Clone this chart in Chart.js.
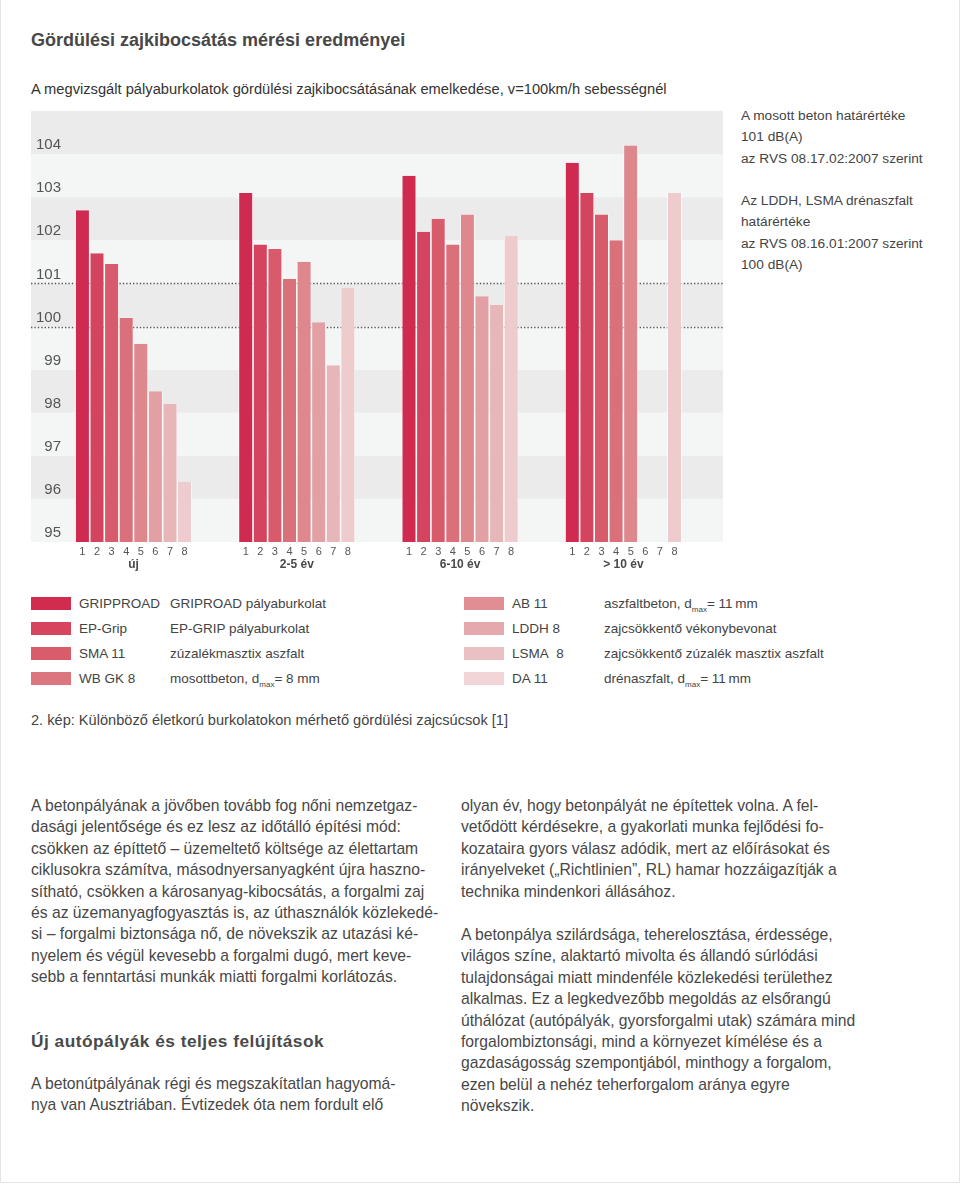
<!DOCTYPE html>
<html lang="hu">
<head>
<meta charset="utf-8">
<title>Gördülési zajkibocsátás mérési eredményei</title>
<script src="https://cdn.jsdelivr.net/npm/chart.js@4.4.1/dist/chart.umd.min.js"></script>
<style>
  body { margin: 0; background: #fff; font-family: "Liberation Sans", Arial, sans-serif; color: #444; }
  #page { position: relative; width: 958px; height: 1182px; border: 1px solid #e3e3e3; border-top: none; overflow: hidden; }
  .abs { position: absolute; white-space: nowrap; }
  #title { left: 30px; top: 30px; font-size: 18px; line-height: 20px; font-weight: bold; color: #474747; }
  #subtitle { left: 30px; top: 80px; font-size: 14.7px; line-height: 18px; color: #333; }
  #chartBox { position: absolute; left: 0; top: 95px; width: 740px; height: 487px; }
  #note { left: 740px; top: 105px; font-size: 13.7px; line-height: 21.3px; color: #444; }
  .leg { position: absolute; top: 591px; }
  .leg-row { position: relative; height: 25px; line-height: 25px; font-size: 13.5px; color: #444; white-space: nowrap; }
  .leg-row .sw { position: absolute; left: 0; top: 6px; width: 40px; height: 13px; }
  .leg-row .code { position: absolute; left: 48px; }
  .leg-row sub { font-size: 8px; vertical-align: -4px; line-height: 0; }
  #caption { left: 30px; top: 711px; font-size: 14.6px; line-height: 18px; color: #444; }
  .col { position: absolute; font-size: 15.7px; line-height: 21.4px; color: #474747; white-space: nowrap; }
  #heading { left: 30px; top: 1030px; font-size: 17.3px; line-height: 22px; font-weight: bold; color: #4a4a4a; letter-spacing: 0.5px; }
</style>
</head>
<body>
<div id="page">
  <div id="title" class="abs">Gördülési zajkibocsátás mérési eredményei</div>
  <div id="subtitle" class="abs">A megvizsgált pályaburkolatok gördülési zajkibocsátásának emelkedése, v=100km/h sebességnél</div>
  <div id="chartBox"><canvas id="chartZaj"></canvas></div>
  <div id="note" class="abs">A mosott beton határértéke<br>101 dB(A)<br>az RVS 08.17.02:2007 szerint<br><br>Az LDDH, LSMA drénaszfalt<br>határértéke<br>az RVS 08.16.01:2007 szerint<br>100 dB(A)</div>
  <div id="legLeft" class="leg" style="left:30px;"></div>
  <div id="legRight" class="leg" style="left:463px;"></div>
  <div id="caption" class="abs">2. kép: Különböző életkorú burkolatokon mérhető gördülési zajcsúcsok [1]</div>

  <div class="col" style="left:30px; top:795px;">
    A betonpályának a jövőben tovább fog nőni nemzetgaz-<br>
    dasági jelentősége és ez lesz az időtálló építési mód:<br>
    csökken az építtető – üzemeltető költsége az élettartam<br>
    ciklusokra számítva, másodnyersanyagként újra haszno-<br>
    sítható, csökken a károsanyag-kibocsátás, a forgalmi zaj<br>
    és az üzemanyagfogyasztás is, az úthasználók közlekedé-<br>
    si – forgalmi biztonsága nő, de növekszik az utazási ké-<br>
    nyelem és végül kevesebb a forgalmi dugó, mert keve-<br>
    sebb a fenntartási munkák miatti forgalmi korlátozás.
  </div>
  <div id="heading" class="abs">Új autópályák és teljes felújítások</div>
  <div class="col" style="left:30px; top:1073px;">
    A betonútpályának régi és megszakítatlan hagyomá-<br>
    nya van Ausztriában. Évtizedek óta nem fordult elő
  </div>
  <div class="col" style="left:460px; top:795px;">
    olyan év, hogy betonpályát ne építettek volna. A fel-<br>
    vetődött kérdésekre, a gyakorlati munka fejlődési fo-<br>
    kozataira gyors válasz adódik, mert az előírásokat és<br>
    irányelveket („Richtlinien”, RL) hamar hozzáigazítják a<br>
    technika mindenkori állásához.
  </div>
  <div class="col" style="left:460px; top:924px;">
    A betonpálya szilárdsága, teherelosztása, érdessége,<br>
    világos színe, alaktartó mivolta és állandó súrlódási<br>
    tulajdonságai miatt mindenféle közlekedési területhez<br>
    alkalmas. Ez a legkedvezőbb megoldás az elsőrangú<br>
    úthálózat (autópályák, gyorsforgalmi utak) számára mind<br>
    forgalombiztonsági, mind a környezet kímélése és a<br>
    gazdaságosság szempontjából, minthogy a forgalom,<br>
    ezen belül a nehéz teherforgalom aránya egyre<br>
    növekszik.
  </div>
</div>

<script>
// korcsoportok (x tengely) és a sávon belüli sorszámok
const groupLabels = ['új', '2-5 év', '6-10 év', '> 10 év'];
const barNumbers = ['1', '2', '3', '4', '5', '6', '7', '8'];
const yTicks = [95, 96, 97, 98, 99, 100, 101, 102, 103, 104];
const limitLines = [101, 100];

// burkolatok
const surfaceCodes = ['GRIPPROAD', 'EP-Grip', 'SMA 11', 'WB GK 8', 'AB 11', 'LDDH 8', 'LSMA&nbsp;&nbsp;8', 'DA 11'];
const surfaceNames = [
    'GRIPROAD pályaburkolat',
    'EP-GRIP pályaburkolat',
    'zúzalékmasztix aszfalt',
    'mosottbeton, d<sub>max</sub>= 8 mm',
    'aszfaltbeton, d<sub>max</sub>= 11&thinsp;mm',
    'zajcsökkentő vékonybevonat',
    'zajcsökkentő zúzalék masztix aszfalt',
    'drénaszfalt, d<sub>max</sub>= 11&thinsp;mm'
];
const barColors = ['#cf2a4f', '#d5445e', '#d85b6b', '#da7079', '#de888e', '#e2a0a4', '#e7b6b9', '#eecbcd'];
const swatchColors = ['#d12b4e', '#d6445e', '#d95c6b', '#dc767e', '#e08e93', '#e5a8ac', '#eac0c3', '#f2d6d7'];

// dB(A) értékek korcsoportonként
const gripproad = [102.7, 103.1, 103.5, 103.8];
const epGrip    = [101.7, 101.9, 102.2, 103.1];
const sma11     = [101.45, 101.8, 102.5, 102.6];
const wbGk8     = [100.2, 101.1, 101.9, 102.0];
const ab11      = [99.6, 101.5, 102.6, 104.2];
const lddh8     = [98.5, 100.1, 100.7, null];
const lsma8     = [98.2, 99.1, 100.5, null];
const da11      = [96.4, 100.9, 102.1, 103.1];
const seriesValues = [gripproad, epGrip, sma11, wbGk8, ab11, lddh8, lsma8, da11];

const LABEL_COL = 33; // y feliratok sávja a rajzterület bal oldalán

// jelmagyarázat
function buildLegend() {
    const left = document.getElementById('legLeft');
    const right = document.getElementById('legRight');
    surfaceCodes.forEach((code, i) => {
        const row = document.createElement('div');
        row.className = 'leg-row';
        const descLeft = i < 4 ? 139 : 140;
        row.innerHTML = `<span class="sw" style="background:${swatchColors[i]}"></span>` +
            `<span class="code">${code}</span>` +
            `<span style="position:absolute;left:${descLeft}px">${surfaceNames[i]}</span>`;
        (i < 4 ? left : right).appendChild(row);
    });
}

const bandPlugin = {
    id: 'bands',
    beforeDraw(chart) {
        const { ctx, chartArea, scales: { y } } = chart;
        const x0 = chartArea.left - LABEL_COL;
        ctx.save();
        for (let v = y.min; v < y.max; v++) {
            const top = y.getPixelForValue(v + 1);
            const bot = y.getPixelForValue(v);
            ctx.fillStyle = v % 2 === 0 ? '#ebebeb' : '#f4f5f5';
            ctx.fillRect(x0, top, chartArea.right - x0, bot - top);
        }
        ctx.restore();
    },
    beforeDatasetsDraw(chart) {
        const { ctx, chartArea, scales: { y } } = chart;
        const x0 = chartArea.left - LABEL_COL;
        ctx.save();
        ctx.strokeStyle = '#5a5a5a';
        ctx.lineWidth = 1.3;
        ctx.setLineDash([1.4, 2]);
        limitLines.forEach(v => {
            const py = Math.round(y.getPixelForValue(v)) + 0.5;
            ctx.beginPath();
            ctx.moveTo(x0, py);
            ctx.lineTo(chartArea.right, py);
            ctx.stroke();
        });
        ctx.restore();
    },
    afterDatasetsDraw(chart) {
        const { ctx, chartArea } = chart;
        ctx.save();
        ctx.font = '11px "Liberation Sans", Arial, sans-serif';
        ctx.fillStyle = '#555';
        ctx.textAlign = 'center';
        ctx.textBaseline = 'middle';
        chart.data.datasets.forEach((ds, i) => {
            chart.getDatasetMeta(i).data.forEach(bar => {
                ctx.fillText(barNumbers[i], bar.x, chartArea.bottom + 9.5);
            });
        });
        ctx.restore();
    }
};

function renderChart() {
    const ctx = document.getElementById('chartZaj').getContext('2d');
    new Chart(ctx, {
        type: 'bar',
        data: {
            datasets: seriesValues.map((vals, i) => ({
                label: surfaceCodes[i],
                data: vals.map((v, j) => ({ x: j, y: v })),
                backgroundColor: barColors[i],
                borderColor: '#ffffff',
                borderWidth: { left: 0.8, right: 0.8, top: 0, bottom: 0 },
                borderSkipped: false,
                categoryPercentage: 0.715,
                barPercentage: 1
            }))
        },
        options: {
            responsive: true, maintainAspectRatio: false, animation: false,
            layout: { padding: { left: 30, top: 16, right: 18, bottom: 0 } },
            scales: {
                x: {
                    type: 'linear', min: -0.4256, max: 3.61, offset: false,
                    afterBuildTicks: s => { s.ticks = groupLabels.map((_, i) => ({ value: i })); },
                    afterFit: s => { s.height = 40; },
                    grid: { display: false, drawTicks: false, offset: false }, border: { display: false },
                    ticks: { callback: v => groupLabels[v], padding: 15, maxRotation: 0, color: '#4a4a4a', font: { size: 12, weight: 'bold' } }
                },
                y: {
                    min: 95, max: 105,
                    afterBuildTicks: s => { s.ticks = yTicks.map(v => ({ value: v })); },
                    afterFit: s => { s.width = LABEL_COL; },
                    grid: { display: false, drawTicks: false }, border: { display: false },
                    ticks: { labelOffset: -9, padding: 3, color: '#555', font: { size: 15 } }
                }
            },
            plugins: { legend: { display: false }, tooltip: { enabled: false } }
        },
        plugins: [bandPlugin]
    });
}

Chart.defaults.font.family = '"Liberation Sans", Arial, sans-serif';
buildLegend();
renderChart();
</script>
</body>
</html>
